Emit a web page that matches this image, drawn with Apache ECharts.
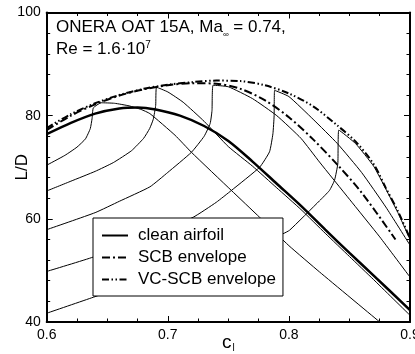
<!DOCTYPE html>
<html>
<head>
<meta charset="utf-8">
<script src="https://cdn.jsdelivr.net/npm/echarts@6/dist/echarts.min.js"></script>
<style>
  html, body { margin: 0; padding: 0; background: #fff; }
  #chart { width: 415px; height: 354px; }
</style>
</head>
<body>
<div id="chart"></div>
<script>
// clean airfoil polar
const cleanCl = [0.6, 0.62, 0.64, 0.66, 0.675, 0.69, 0.71, 0.73, 0.75, 0.77, 0.79, 0.81, 0.83, 0.85, 0.87, 0.9];
const cleanLD = [76.4, 78.6, 80.4, 81.4, 81.6, 81.2, 80.0, 78.0, 75.1, 71.1, 66.8, 62.5, 57.9, 53.4, 49.0, 42.3];

// SCB envelope
const scbCl = [0.6, 0.62, 0.64, 0.66, 0.68, 0.70, 0.72, 0.74, 0.76, 0.78, 0.80, 0.82, 0.84, 0.86, 0.888];
const scbLD = [77.2, 80.0, 82.2, 83.9, 85.1, 85.9, 86.3, 86.2, 85.2, 83.0, 79.7, 75.4, 70.5, 65.1, 56.0];

// VC-SCB envelope
const vcCl = [0.6, 0.62, 0.64, 0.66, 0.68, 0.70, 0.72, 0.74, 0.76, 0.78, 0.80, 0.82, 0.84, 0.855, 0.87, 0.88, 0.89, 0.9];
const vcLD = [77.6, 80.3, 82.4, 84.0, 85.2, 86.0, 86.5, 86.8, 86.7, 85.9, 84.3, 81.8, 78.1, 75.0, 70.6, 66.0, 61.5, 56.2];

// single bump polars (thin lines)
const aCl = [0.6, 0.615, 0.625, 0.632, 0.636, 0.6375, 0.6385, 0.645, 0.656, 0.668, 0.678, 0.6852, 0.706, 0.7195, 0.7525, 0.7758, 0.80, 0.8253, 0.875];
const aLD = [70.4, 72.3, 73.9, 75.5, 77.5, 79.5, 81.5, 82.5, 82.4, 81.9, 81.2, 80.4, 76.2, 72.9, 65.5, 60.3, 54.8, 49.7, 40.0];

const bCl = [0.6, 0.62, 0.64, 0.655, 0.67, 0.68, 0.685, 0.688, 0.690, 0.6907, 0.70, 0.7127, 0.73, 0.75, 0.77, 0.79, 0.81, 0.83, 0.85, 0.87, 0.9];
const bLD = [65.4, 67.3, 69.2, 70.9, 73.2, 75.6, 77.5, 79.3, 82.0, 85.5, 84.6, 82.6, 78.9, 74.0, 70.2, 66.0, 61.8, 57.2, 52.7, 48.2, 41.3];

const cCl = [0.6, 0.64, 0.66, 0.6852, 0.70, 0.7195, 0.73, 0.735, 0.7365, 0.7374, 0.75, 0.77, 0.79, 0.81, 0.8253, 0.85, 0.875, 0.9];
const cLD = [57.9, 61.2, 63.4, 66.2, 69.0, 72.9, 76.0, 78.5, 81.0, 85.9, 85.6, 83.3, 80.0, 75.6, 71.0, 63.8, 56.5, 48.7];

const dCl = [0.6, 0.6385, 0.69, 0.7209, 0.74, 0.7525, 0.7758, 0.784, 0.7868, 0.7878, 0.7882, 0.80, 0.82, 0.84, 0.86, 0.88, 0.9];
const dLD = [49.8, 52.6, 57.4, 60.3, 63.2, 65.5, 70.0, 73.0, 76.5, 80.0, 84.9, 83.7, 79.3, 74.6, 69.0, 62.3, 54.9];

const eCl = [0.6, 0.6385, 0.68, 0.72, 0.76, 0.795, 0.8006, 0.8253, 0.8335, 0.8377, 0.8404, 0.8412, 0.855, 0.87, 0.88, 0.89, 0.9];
const eLD = [41.7, 44.8, 48.2, 51.4, 54.4, 57.1, 57.8, 63.5, 65.5, 67.5, 70.7, 77.2, 74.6, 70.2, 65.8, 61.2, 56.0];

const xTicks = ['0.6', '0.7', '0.8', '0.9'];
const yTicks = ['40', '60', '80', '100'];

const font = '"Liberation Sans", Arial, Helvetica, sans-serif';
const pairs = (xs, ys) => xs.map((x, i) => [x, ys[i]]);

function thin(name, xs, ys) {
  return {
    name: name, type: 'line', data: pairs(xs, ys), symbol: 'none', smooth: 0.15,
    lineStyle: { color: '#000', width: 1 }, itemStyle: { color: '#000' }, z: 2, silent: true
  };
}

const tickCommon = {
  axisLine: { show: true, lineStyle: { color: '#000', width: 2 } },
  axisTick: { show: true, inside: true, length: 6, lineStyle: { color: '#000', width: 1 } },
  splitLine: { show: false }
};

const chart = echarts.init(document.getElementById('chart'));

chart.setOption({
  animation: false,
  backgroundColor: '#fff',
  title: {
    text: 'ONERA OAT 15A, Ma{sub|∞} = 0.74,\nRe = 1.6·10{sup|7}',
    left: 56, top: 16, padding: 0,
    textStyle: {
      fontFamily: font, fontSize: 17, fontWeight: 'normal', color: '#000', lineHeight: 22.5,
      rich: {
        sub: { fontFamily: font, fontSize: 8, lineHeight: 8, verticalAlign: 'bottom', color: '#000' },
        sup: { fontFamily: font, fontSize: 10, lineHeight: 10, verticalAlign: 'top', padding: [2, 0, 0, 0], color: '#000' }
      }
    }
  },
  legend: {
    data: ['clean airfoil', 'SCB envelope', 'VC-SCB envelope'],
    orient: 'vertical', left: 93, top: 218,
    padding: [9, 7, 8, 8], itemGap: 5, itemWidth: 26, itemHeight: 14,
    backgroundColor: '#fff', borderColor: '#000', borderWidth: 1, borderRadius: 0,
    itemStyle: { opacity: 0 },
    textStyle: { fontFamily: font, fontSize: 17, color: '#000', padding: [0, 0, 0, 5] },
    selectedMode: false
  },
  grid: { left: 46.7, right: 5, top: 12.5, bottom: 32, containLabel: false, outerBoundsMode: 'none' },
  xAxis: [{
    type: 'value', min: 0.6, max: 0.9, interval: 0.1, position: 'bottom',
    ...tickCommon,
    minorTick: { show: true, splitNumber: 4, length: 3.5, lineStyle: { color: '#000', width: 1 } },
    axisLabel: { margin: 6, fontFamily: font, fontSize: 14, color: '#000',
      formatter: v => xTicks[Math.round((v - 0.6) * 10)] },
    name: '{c|c}{s|l}', nameLocation: 'middle', nameGap: 11, nameMoveOverlap: false,
    nameTextStyle: {
      rich: {
        c: { fontFamily: font, fontSize: 19, color: '#000', lineHeight: 20 },
        s: { fontFamily: font, fontSize: 10, color: '#000', lineHeight: 10, verticalAlign: 'bottom', padding: [0, 0, 0, 1] }
      }
    }
  }, {
    type: 'value', min: 0.6, max: 0.9, interval: 0.1, position: 'top',
    ...tickCommon,
    minorTick: { show: true, splitNumber: 4, length: 3.5, lineStyle: { color: '#000', width: 1 } },
    axisLabel: { show: false }
  }],
  yAxis: [{
    type: 'value', min: 40, max: 100, interval: 20, position: 'left',
    ...tickCommon,
    minorTick: { show: true, splitNumber: 5, length: 3.5, lineStyle: { color: '#000', width: 1 } },
    axisLabel: { margin: 6, fontFamily: font, fontSize: 14, color: '#000',
      formatter: v => yTicks[Math.round((v - 40) / 20)] },
    name: 'L/D', nameLocation: 'middle', nameRotate: 90, nameGap: 16, nameMoveOverlap: false,
    nameTextStyle: { fontFamily: font, fontSize: 17, color: '#000' }
  }, {
    type: 'value', min: 40, max: 100, interval: 20, position: 'right',
    ...tickCommon,
    minorTick: { show: true, splitNumber: 5, length: 3.5, lineStyle: { color: '#000', width: 1 } },
    axisLabel: { show: false }
  }],
  series: [
    thin('bump A', aCl, aLD),
    thin('bump B', bCl, bLD),
    thin('bump C', cCl, cLD),
    thin('bump D', dCl, dLD),
    thin('bump E', eCl, eLD),
    {
      name: 'clean airfoil', type: 'line', data: pairs(cleanCl, cleanLD), symbol: 'none', smooth: 0.3,
      lineStyle: { color: '#000', width: 2.5 }, itemStyle: { color: '#000' }, z: 3
    },
    {
      name: 'SCB envelope', type: 'line', data: pairs(scbCl, scbLD), symbol: 'none', smooth: 0.3,
      lineStyle: { color: '#000', width: 2, type: [8, 3, 2, 3], cap: 'butt' }, itemStyle: { color: '#000' }, z: 3
    },
    {
      name: 'VC-SCB envelope', type: 'line', data: pairs(vcCl, vcLD), symbol: 'none', smooth: 0.3,
      lineStyle: { color: '#000', width: 2, type: [7, 2.5, 1.5, 2.5, 1.5, 2.5], cap: 'butt' }, itemStyle: { color: '#000' }, z: 3
    }
  ]
});
</script>
</body>
</html>
